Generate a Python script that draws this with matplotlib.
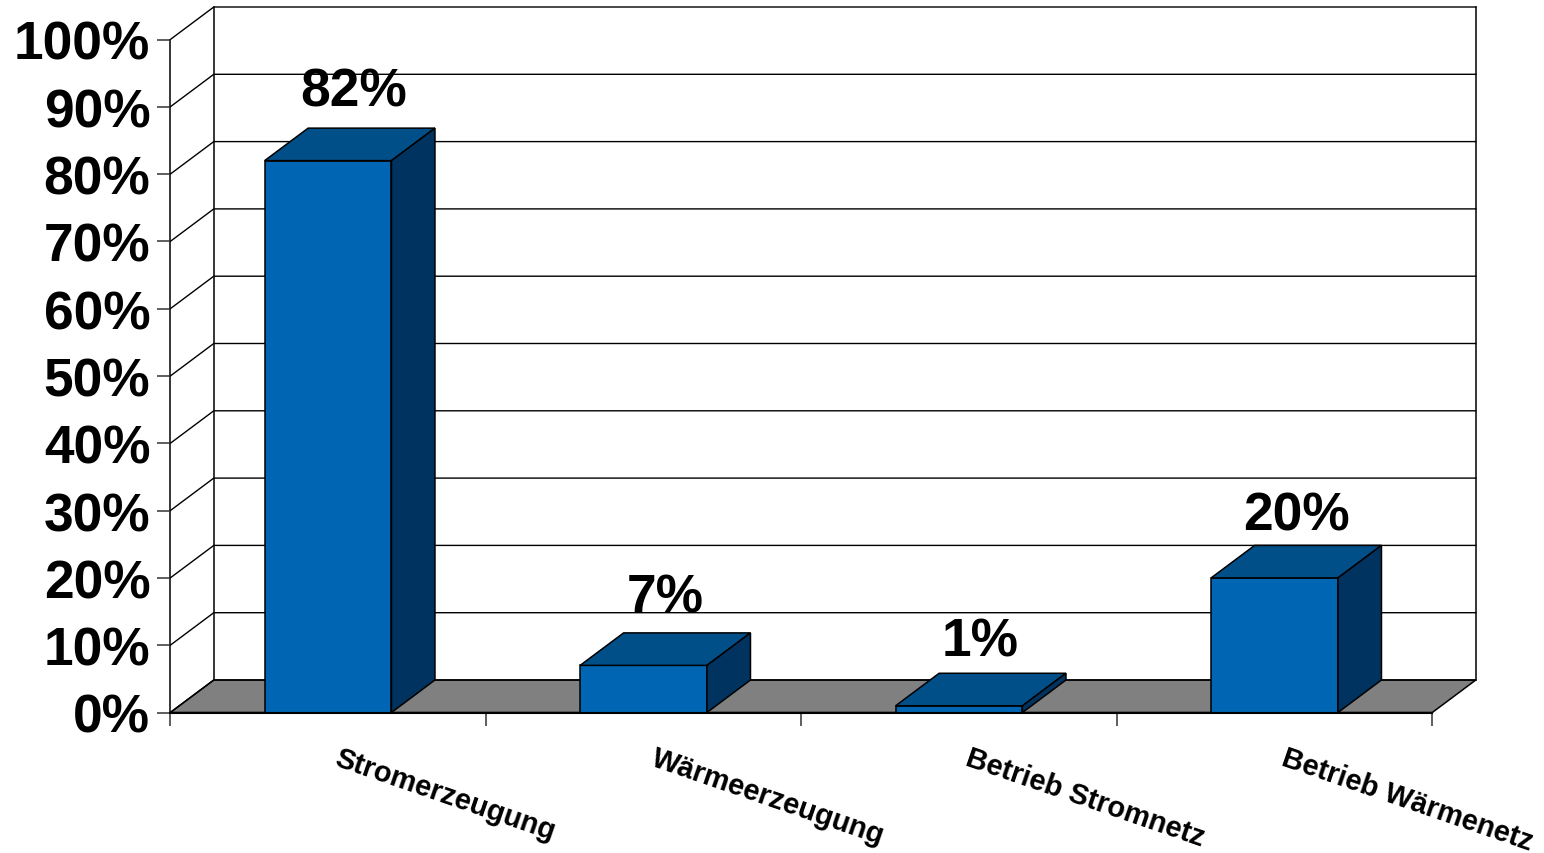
import matplotlib
matplotlib.use('Agg')
import matplotlib.pyplot as plt
from matplotlib.patches import Polygon

plt.rcParams['font.family'] = ['Liberation Sans', 'DejaVu Sans']

# Daten
categories = ['Stromerzeugung', 'Wärmeerzeugung', 'Betrieb Stromnetz', 'Betrieb Wärmenetz']
values = [82, 7, 1, 20]
y_ticks = [0, 10, 20, 30, 40, 50, 60, 70, 80, 90, 100]

# Layout in Pixel
W, H = 1544, 854
left, right, bottom, top = 170.3, 1432.3, 713.5, 40.5
depth_px = (43.5, 32.5)
# Versatz der Werte-Beschriftung gegenueber der Balkenmitte / Oberkante
value_label_offset = [(25.5, 55), (21.5, 54), (21, 50), (21.5, 48)]
cat_label_offset = [(5, -52), (6, -52), (5, -52), (5, -52)]

fig = plt.figure(figsize=(W / 100, H / 100), dpi=100)
ax = fig.add_axes([left / W, 1 - bottom / H, (right - left) / W, (bottom - top) / H])
ax.set_xlim(0, 4)
ax.set_ylim(0, 100)
for s in ax.spines.values():
    s.set_visible(False)
ax.patch.set_visible(False)

# Tiefe in Datenkoordinaten
dx = depth_px[0] / (right - left) * 4
dy = depth_px[1] / (bottom - top) * 100

# Boden
ax.add_patch(Polygon([(0, 0), (dx, dy), (4 + dx, dy), (4, 0)], closed=True, facecolor='#808080',
                     edgecolor='black', lw=1.1, clip_on=False, zorder=1))

# Gitterlinien und Waende
for v in y_ticks:
    ax.plot([0, dx, 4 + dx], [v, v + dy, v + dy], color='black', lw=1.0, clip_on=False, zorder=1.5)
ax.plot([0, 0], [0, 100], color='black', lw=1.1, clip_on=False, zorder=1.5)
ax.plot([dx, dx], [dy, 100 + dy], color='black', lw=1.1, clip_on=False, zorder=1.5)
ax.plot([4 + dx, 4 + dx], [dy, 100 + dy], color='black', lw=1.1, clip_on=False, zorder=1.5)

# Balken
bar_w = 0.402
xs = [i + 0.5 for i in range(len(values))]
ax.bar(xs, values, width=bar_w, color='#0066B3', edgecolor='black', lw=1.1, zorder=3, clip_on=False)
for x, v in zip(xs, values):
    x0, x1 = x - bar_w / 2, x + bar_w / 2
    ax.add_patch(Polygon([(x0, v), (x0 + dx, v + dy), (x1 + dx, v + dy), (x1, v)], closed=True,
                         facecolor='#004F88', edgecolor='black', lw=1.1, clip_on=False, zorder=3))
    ax.add_patch(Polygon([(x1, 0), (x1 + dx, dy), (x1 + dx, v + dy), (x1, v)], closed=True,
                         facecolor='#00335F', edgecolor='black', lw=1.1, clip_on=False, zorder=3))

ax.plot([0, 4], [0, 0], color='black', lw=1.5, clip_on=False, zorder=4)

# Achsen
ax.set_yticks(y_ticks)
ax.set_yticklabels([f'{v}%' for v in y_ticks], fontsize=38.3, fontweight='bold')
ax.set_xticks(range(5))
ax.set_xticklabels([])
ax.tick_params(axis='y', length=9.4, width=1.1, color='#333333', pad=5)
ax.tick_params(axis='x', length=9.4, width=1.1, color='#333333')

# Beschriftungen
for x, v, off in zip(xs, values, value_label_offset):
    ax.annotate(f'{v}%', (x, v), xytext=off, textcoords='offset pixels', ha='center', va='baseline',
                fontsize=38.3, fontweight='bold', annotation_clip=False, zorder=5)

for x, name, off in zip(xs, categories, cat_label_offset):
    ax.annotate(name, (x, 0), xytext=off, textcoords='offset pixels', ha='left', va='baseline',
                rotation=-19, rotation_mode='anchor', fontsize=21, fontweight='bold',
                annotation_clip=False)

fig.savefig('out.png', dpi=100)
